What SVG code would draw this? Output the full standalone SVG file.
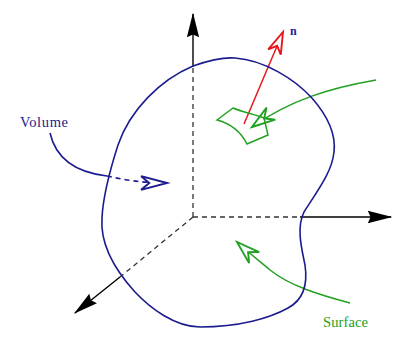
<svg xmlns="http://www.w3.org/2000/svg" width="398" height="338" viewBox="0 0 398 338">
<style>
.axis{fill:none;stroke:#000;stroke-width:1.4}
.dash{fill:none;stroke:#333;stroke-width:1.3;stroke-dasharray:5,4}
.blue{fill:none;stroke:#1c1c8e;stroke-width:1.6}
.green{fill:none;stroke:#22a022;stroke-width:1.5}
.red{fill:none;stroke:#e8161a;stroke-width:1.5}
.lbl{font-family:"Liberation Serif","DejaVu Serif",serif;font-size:14.5px}
</style>
<defs>
<marker id="ah" markerUnits="userSpaceOnUse" orient="auto" refX="0" refY="0" markerWidth="30" markerHeight="30" viewBox="-20 -10 22 20" overflow="visible">
<path d="M1,0 L-17,-4.5 L-15,0 L-17,4.5 Z" fill="#000" stroke="none"/>
</marker>
<marker id="ob" markerUnits="userSpaceOnUse" orient="auto" refX="0" refY="0" markerWidth="30" markerHeight="30" viewBox="-20 -10 22 20" overflow="visible">
<path d="M0,0 L-19,-5 L-13,0 L-19,5 Z" fill="#fff" stroke="#1c1c8e" stroke-width="1.4" stroke-linejoin="miter"/>
</marker>
<marker id="og" markerUnits="userSpaceOnUse" orient="auto" refX="0" refY="0" markerWidth="30" markerHeight="30" viewBox="-20 -10 22 20" overflow="visible">
<path d="M0,0 L-17,-5.5 L-11,0 L-17,5.5 Z" fill="#fff" stroke="#22a022" stroke-width="1.4"/>
</marker>
<marker id="or" markerUnits="userSpaceOnUse" orient="auto" refX="0" refY="0" markerWidth="30" markerHeight="30" viewBox="-20 -10 22 20" overflow="visible">
<path d="M0,0 L-16,-5 L-11,0 L-16,5 Z" fill="#fff" stroke="#e8161a" stroke-width="1.4"/>
</marker>
</defs>
<g id="connectors">
<line class="dash" x1="193" y1="217" x2="193" y2="67"/>
<line class="axis" x1="193" y1="67" x2="193" y2="14" marker-end="url(#ah)"/>
<line class="dash" x1="193" y1="217" x2="300" y2="217"/>
<line class="axis" x1="300" y1="217" x2="391" y2="217" marker-end="url(#ah)"/>
<line class="dash" x1="193" y1="217" x2="120" y2="277"/>
<line class="axis" x1="120" y1="277" x2="75" y2="313" marker-end="url(#ah)"/>
<path class="blue" d="M50,133 C55,155 72,172 107,176"/>
<path class="blue" d="M107,176 C125,180 142,183 167,183" stroke-dasharray="5,4" marker-end="url(#ob)"/>
<path class="red" d="M244,124 L283,32" marker-end="url(#or)"/>
<path class="green" d="M376,80 C330,88 290,100 252,127" marker-end="url(#og)"/>
<path class="green" d="M350,303 C320,295 290,286 270,270 C258,260 248,252 237,242" marker-end="url(#og)"/>
</g>
<g id="volume">
<path class="blue" d="M193,66 C210,60 222,57 235,58 C265,60 295,80 311,97 C328,116 336,135 334,152 C332,172 318,190 304,212 C296,228 302,250 305,265 C308,285 303,300 288,308 C270,318 240,327 200,327 C175,327 150,308 135,292 C115,270 100,245 102,218 C103,195 110,170 118,145 C130,110 160,80 193,66 Z"/>
</g>
<g id="patch">
<path class="green" d="M217,120 L233,108 C242,112 254,114 264,118 L268,135 L247,144 C242,134 232,124 217,120 Z"/>
</g>
<g id="labels">
<text class="lbl" x="20" y="127" fill="#1c1c8e" textLength="48">Volume</text>
<text class="lbl" x="323" y="327" fill="#22a022" textLength="45">Surface</text>
<text x="290" y="35" fill="#1c1c8e" font-family="Liberation Serif, serif" font-size="12" font-weight="bold">n</text>
</g>
</svg>
